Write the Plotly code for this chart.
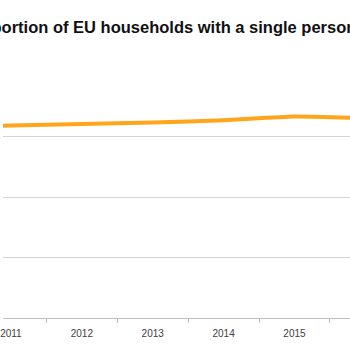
import plotly.graph_objects as go

years = [2010, 2011, 2012, 2013, 2014, 2015, 2016]
share = [31.6, 31.8, 32.05, 32.33, 32.68, 33.32, 33.0]
tick_years = [2011, 2012, 2013, 2014, 2015]
title_text = "Proportion of EU households with a single person"

fig = go.Figure()
fig.add_trace(go.Scatter(
    x=years, y=share, mode="lines",
    line=dict(color="#FFA51A", width=4, shape="spline", smoothing=0.6),
    showlegend=False, hoverinfo="skip",
))

px_per_year = 71.5
left = 2011 - 8 / px_per_year
right = left + 350 / px_per_year

fig.update_layout(
    width=350, height=350,
    margin=dict(l=0, r=0, t=76, b=32),
    paper_bgcolor="white", plot_bgcolor="white",
    xaxis=dict(
        range=[left, right], tickvals=tick_years,
        ticktext=[str(y) for y in tick_years],
        ticks="", showgrid=False, zeroline=False,
        showline=False, ticklabeloverflow="allow", ticklabelstandoff=8,
        tickfont=dict(family="Liberation Sans", size=10, color="#404040"),
        minor=dict(tickvals=[y + 0.5 for y in [2010] + tick_years],
                   ticks="outside", ticklen=4, tickcolor="#bfbfbf", tickwidth=1,
                   showgrid=False),
    ),
    yaxis=dict(
        range=[0, 40], tickvals=[0, 10, 20, 30, 40],
        showticklabels=False, ticks="",
        showgrid=True, gridcolor="#d4d4d4", gridwidth=1,
        zeroline=True, zerolinecolor="#bfbfbf", zerolinewidth=1,
        showline=False,
    ),
    annotations=[dict(
        text="<b>" + title_text + "</b>", xref="paper", yref="paper",
        x=-0.118, xanchor="left", y=1.0, yanchor="bottom", yshift=38,
        showarrow=False,
        font=dict(family="Liberation Sans", size=16.5, color="#111111"),
    )],
)

fig.write_html("out.html")
